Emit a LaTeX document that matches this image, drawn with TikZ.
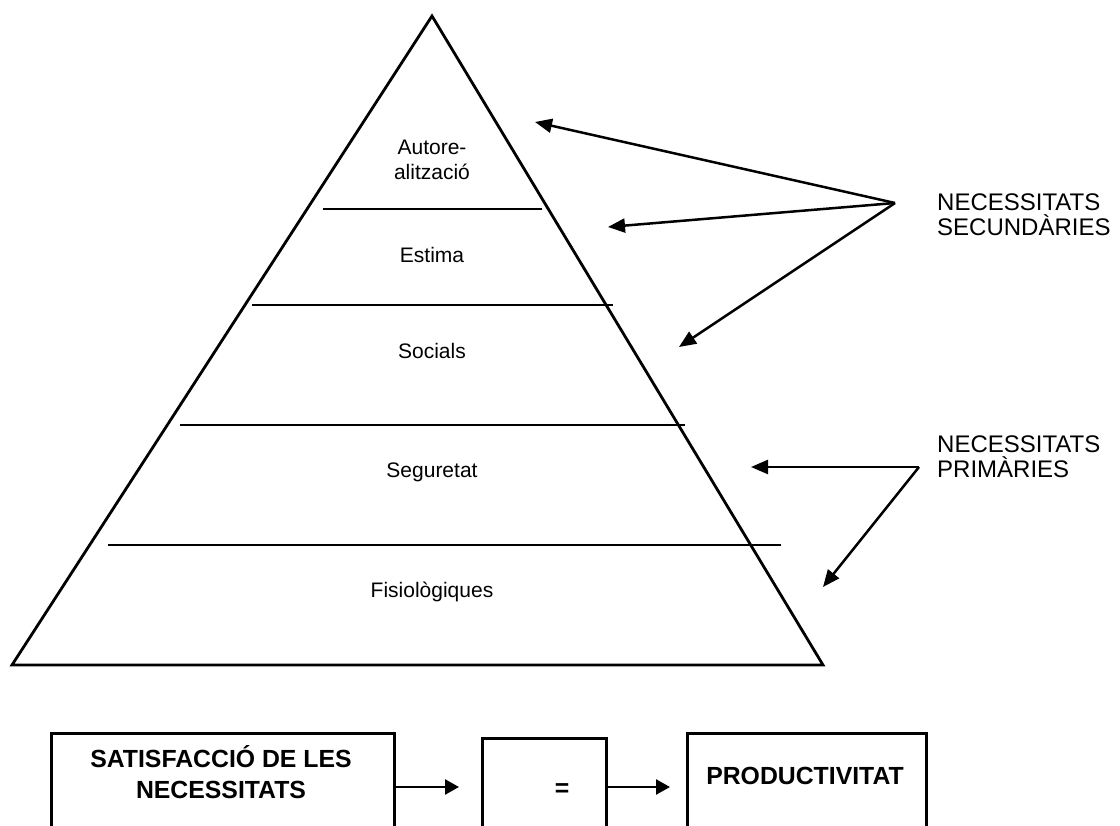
\documentclass[tikz,border=0pt]{standalone}
\usepackage{fontspec}
\setmainfont{Liberation Sans}
\usetikzlibrary{arrows.meta}
\begin{document}
\begin{tikzpicture}[x=1pt,y=-1pt,
  pyr/.style={line width=2.8pt, line join=miter},
  tier/.style={line width=1.6pt},
  lvl/.style={font=\fontsize{21}{25}\selectfont, anchor=base, inner sep=0pt, align=center},
  side/.style={font=\fontsize{24}{25}\selectfont, anchor=base west, inner sep=0pt, align=left},
  ptr/.style={line width=2.5pt, -{Triangle[length=17pt,width=14pt]}},
  box/.style={draw, line width=2.8pt, anchor=north west, inner sep=0pt},
  boxtxt/.style={font=\bfseries\fontsize{24.8}{31}\selectfont, anchor=base, inner sep=0pt, align=center},
  flow/.style={line width=2.5pt, -{Triangle[length=14pt,width=15pt]}}
]
\useasboundingbox (0,0) rectangle (1120,826);
\clip (0,0) rectangle (1120,826);

% pyramid outline
\coordinate (apex) at (432,16);
\coordinate (bl) at (12,665);
\coordinate (br) at (823,665);
\draw[pyr] (apex) -- (br) -- (bl) -- cycle;

% dividing lines between the levels
\draw[tier] (323,209) -- (542,209);
\draw[tier] (252,305) -- (613,305);
\draw[tier] (180,425) -- (685,425);
\draw[tier] (108,545) -- (781,545);

% level names (multi-line nodes sit on the baseline of their last line)
\node[lvl] (autor) at (432,180) {Autore-\\alització};
\node[lvl] (estima) at (432,263) {Estima};
\node[lvl] (socials) at (432,359) {Socials};
\node[lvl] (segur) at (432,478) {Seguretat};
\node[lvl] (fisio) at (432,597) {Fisiològiques};

% side labels
\node[side] (seclbl) at (937,236) {NECESSITATS\\SECUNDÀRIES};
\node[side] (primlbl) at (937,478) {NECESSITATS\\PRIMÀRIES};

% pointer arrows
\coordinate (sec) at (895,203);
\coordinate (s1) at (535,122);
\coordinate (s2) at (608,227);
\coordinate (s3) at (679,347);
\draw[ptr] (sec) -- (s1);
\draw[ptr] (sec) -- (s2);
\draw[ptr] (sec) -- (s3);

\coordinate (prim) at (919,467);
\coordinate (p1) at (751,467);
\coordinate (p2) at (823,587);
\draw[ptr] (prim) -- (p1);
\draw[ptr] (prim) -- (p2);

% bottom row: satisfaction = productivity
\node[box, minimum width=343pt, minimum height=120pt] (sat) at (50,732) {};
\node[box, minimum width=124pt, minimum height=115pt] (eq) at (481,737) {};
\node[box, minimum width=239pt, minimum height=120pt] (prod) at (686,732) {};

\node[boxtxt] (sattxt) at (221,798) {SATISFACCIÓ DE LES\\NECESSITATS};
\node[boxtxt] (eqtxt) at (562,796) {=};
\node[boxtxt] (prodtxt) at (805,784) {PRODUCTIVITAT};

\coordinate (row) at (0,787);
\draw[flow, shorten >=22pt] (sat.east |- row) -- (eq.west |- row);
\draw[flow, shorten >=16pt] (eq.east |- row) -- (prod.west |- row);
\end{tikzpicture}
\end{document}
